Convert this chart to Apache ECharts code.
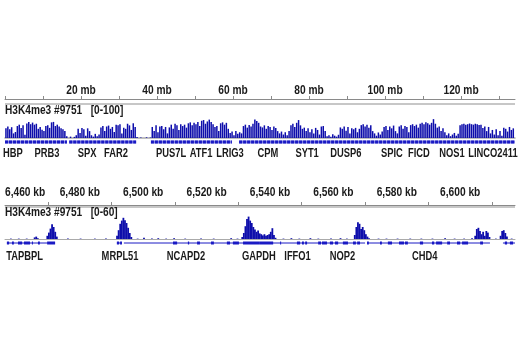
<!DOCTYPE html>
<html><head><meta charset="utf-8">
<script src="https://cdn.jsdelivr.net/npm/echarts@6/dist/echarts.min.js"></script>
<style>html,body{margin:0;padding:0;background:#fff}#c{width:520px;height:350px}</style>
</head><body><div id="c"></div>
<script>
const FONT = "'Liberation Sans',Arial,sans-serif";

// ---------- Top panel: whole chromosome (mb) ----------
const topMin = 0, topMax = 134.2;
const topTickValues = [0,10,20,30,40,50,60,70,80,90,100,110,120,130];
const topLabelValues = [20,40,60,80,100,120];
const topTrackName = 'H3K4me3 #9751   [0-100]';
const topBinStart = 0, topBinSize = 0.5;
const topCoverage = [
42,50,38,47,20,26,52,58,44,55, 14,63,70,60,67,58,62,40,48,36,
30,52,55,44,68,70,52,58,50,42, 38,30,8,0,6,0,5,12,40,22,
44,38,10,42,30,12,6,18,8,15, 46,52,30,50,54,40,48,26,58,55,
60,20,45,40,62,55,35,64,48,4, 0,2,0,0,3,0,2,48,30,55,
25,50,52,38,48,20,46,58,40,62, 55,35,60,52,58,45,64,68,55,66,
60,70,52,75,78,62,72,80,70,60, 48,52,30,64,68,58,66,40,22,28,
12,30,18,25,20,52,58,45,56,50, 62,80,74,66,50,46,55,40,52,48,
35,50,44,30,20,28,15,25,12,30, 55,62,48,66,78,55,40,45,30,42,
25,38,20,44,35,15,50,52,30,8, 12,5,16,10,6,14,46,40,50,32,
48,20,42,38,44,25,40,56,60,50, 58,45,55,30,20,10,24,15,28,48,
52,35,50,42,54,30,20,50,55,40, 52,48,25,56,60,52,58,45,62,66,
60,68,64,58,66,82,62,45,50,30, 42,25,12,20,8,15,22,10,18,55,
60,62,58,60,63,60,58,62,60,56, 58,44,50,30,48,20,35,15,38,12,
30,10,45,40,28,48,35,42
];
const topGeneClusterStart = [0, 16.9, 38.4, 61.6];
const topGeneClusterEnd   = [16.3, 34.5, 59.7, 134.2];
const topGeneNames = ['HBP','PRB3','SPX','FAR2','PUS7L','ATF1','LRIG3','CPM','SYT1','DUSP6','SPIC','FICD','NOS1','LINCO2411'];
const topGenePos   = [2.1, 11.05, 21.6, 29.2, 43.7, 51.6, 59.2, 69.2, 79.5, 89.7, 101.8, 108.9, 117.6, 128.4];

// ---------- Bottom panel: zoomed region (kb) ----------
const botMin = 6456.4, botMax = 6617.3;
const botTickValues = [6470,6490,6510,6530,6550,6570,6590,6610];
const botLabelValues = [6460,6480,6500,6520,6540,6560,6580,6600];
const botTrackName = 'H3K4me3 #9751   [0-60]';
const botCovKb = [
6458.0,6460.5,6463.0,6465.5,6466.0,6466.5,6469.5,6470.0,6470.5,6471.0,6471.5,6472.0,6472.5,
6476.0,6480.0,6484.5,6488.0,
6491.5,6492.0,6492.5,6493.0,6493.5,6494.0,6494.5,6495.0,6495.5,6496.0,
6498.0,6500.0,6502.5,6504.5,6507.0,6509.5,6513.0,6518.0,6522.0,6527.5,6529.5,
6531.0,6531.5,6532.0,6532.5,6533.0,6533.5,6534.0,6534.5,6535.0,6535.5,6536.0,6536.5,
6537.0,6537.5,6538.0,6538.5,6539.0,6539.5,6540.0,6540.5,6541.0,6541.5,
6544.0,6546.5,6549.0,6552.5,6555.0,6559.0,6562.0,6564.0,
6566.5,6567.0,6567.5,6568.0,6568.5,6569.0,6569.5,6570.0,6570.5,6571.0,
6574.0,6576.5,6580.0,6584.0,6587.5,6591.0,6595.0,6598.0,6601.0,6603.5,
6604.5,6605.0,6605.5,6606.0,6606.5,6607.0,6607.5,6608.0,6608.5,6609.0,
6611.0,6612.5,6613.0,6613.5,6614.0,6614.5,6616.0
];
const botCovVal = [
1,1,1,4,6,2,8,16,26,37,30,18,6,
1,1,1,1,
8,22,38,46,53,47,40,28,15,5,
1,3,1,2,1,2,1,1,1,2,1,
5,15,32,50,56,46,40,30,24,18,21,14,
12,9,12,8,10,12,18,27,10,3,
1,2,1,2,1,1,2,1,
10,30,42,38,25,30,22,12,6,2,
1,1,1,1,1,1,2,1,1,2,
8,25,28,20,12,18,8,20,16,5,
1,8,20,22,15,6,1
];
const botIntronStart = [6457.0, 6491.7, 6493.9, 6570.6, 6613.5];
const botIntronEnd   = [6472.2, 6493.3, 6570.0, 6609.4, 6617.3];
const botExonStart = [6457.0,6458.6,6460.5,6462.4,6464.9,6466.8,6469.7,
  6491.7,6492.7,
  6509.4,6514.1,6517.0,6521.4,6526.4,6528.3,6531.5,6536.8,6543.2,6548.5,6550.1,6551.1,
  6555.2,6556.4,6558.9,6560.5,6563.0,6566.2,6567.5,6570.6,6574.7,6577.2,6580.7,6582.6,
  6587.3,6591.1,6592.4,6595.9,6599.0,6600.6,6606.3,6614.1,6615.7];
const botExonEnd = [6457.7,6459.2,6461.8,6464.3,6465.2,6467.4,6472.2,
  6492.4,6493.3,
  6510.7,6514.5,6517.9,6522.3,6527.4,6530.2,6536.8,6541.0,6543.5,6549.5,6550.7,6551.7,
  6556.1,6558.0,6559.9,6561.5,6564.6,6567.1,6568.4,6571.2,6575.3,6578.5,6582.3,6583.5,
  6588.3,6591.8,6594.3,6596.8,6600.0,6602.5,6607.2,6614.8,6616.7];
const botGeneNames = ['TAPBPL','MRPL51','NCAPD2','GAPDH','IFFO1','NOP2','CHD4'];
const botGenePos   = [6462.6, 6492.7, 6513.5, 6536.5, 6548.7, 6562.9, 6588.8];

// ---------- styles ----------
const COV = '#0d0dab';
const GENE = '#1a1ac4';
const TXT = '#1a1a1a';
const FS = 12;

function commas(v){ const s = String(Math.round(v)); return s.replace(/\B(?=(\d{3})+(?!\d))/g, ','); }

function textEl(str, x, y, sx, align){
  return {type:'text', x:x, y:y, scaleX:sx,
    style:{text:str, x:0, y:0, align:align||'center', verticalAlign:'middle',
      fontSize:FS, fontWeight:'bold', fontFamily:FONT, fill:TXT}};
}

const L = 5, W = 510;
const grids = [
  {left: L, width: W, top: 98, height: 1},
  {left: L, width: W, top: 115, height: 23},
  {left: L, width: W, top: 140, height: 16},
  {left: L, width: W, top: 204, height: 1},
  {left: L, width: W, top: 215, height: 24},
  {left: L, width: W, top: 241, height: 20}
];

function hiddenX(i, min, max){ return {type:'value', gridIndex:i, min:min, max:max, show:false}; }
function rulerX(i, min, max, ticks){
  return {type:'value', gridIndex:i, min:min, max:max, position:'top',
    axisLine:{show:true, lineStyle:{color:'#8a8a8a', width:1}},
    axisTick:{show:true, length:3, inside:false, lineStyle:{color:'#8a8a8a'}, customValues: ticks},
    axisLabel:{show:false}, splitLine:{show:false}};
}
const xAxes = [
  rulerX(0, topMin, topMax, topTickValues),
  Object.assign(hiddenX(1, topMin, topMax), {show:true, axisLine:{show:true, lineStyle:{color:'#aaaaaa', width:1.5}}, axisTick:{show:false}, axisLabel:{show:false}, splitLine:{show:false}}),
  hiddenX(2, topMin, topMax),
  rulerX(3, botMin, botMax, botTickValues),
  Object.assign(hiddenX(4, botMin, botMax), {show:true, axisLine:{show:true, lineStyle:{color:'#aaaaaa', width:1}}, axisTick:{show:false}, axisLabel:{show:false}, splitLine:{show:false}}),
  hiddenX(5, botMin, botMax)
];
const yAxes = [
  {type:'value', gridIndex:0, min:0, max:1, show:false},
  {type:'value', gridIndex:1, min:0, max:100, show:false},
  {type:'value', gridIndex:2, min:0, max:1, show:false},
  {type:'value', gridIndex:3, min:0, max:1, show:false},
  {type:'value', gridIndex:4, min:0, max:60, show:false},
  {type:'value', gridIndex:5, min:0, max:1, show:false}
];

const topBars = topCoverage.map((v, i) => [topBinStart + (i + 0.5) * topBinSize, v]);
const botBars = botCovKb.map((k, i) => [k + 0.25, botCovVal[i]]);

const RULER_SX = 0.85, GENE_SX = 0.78, NAME_SX = 0.845;

const series = [
  {type:'custom', xAxisIndex:0, yAxisIndex:0, data: topLabelValues.map(v=>[v,0]),
    renderItem: (p, api) => { const pt = api.coord([api.value(0), 0]);
      return textEl(api.value(0) + ' mb', pt[0], pt[1] - 8.5, RULER_SX); }},
  {type:'bar', xAxisIndex:1, yAxisIndex:1, data: topBars, barWidth: 1.5, itemStyle:{color: COV}, z:3},
  {type:'custom', xAxisIndex:2, yAxisIndex:2, data: topGeneClusterStart.map((s,i)=>[s, topGeneClusterEnd[i]]),
    renderItem: (p, api) => {
      const a = api.coord([api.value(0), 0.875]), b = api.coord([api.value(1), 0.875]);
      return {type:'group', children:[
        {type:'line', shape:{x1:a[0], y1:a[1], x2:b[0], y2:b[1]}, style:{stroke:'#8b8be6', lineWidth:3}},
        {type:'line', shape:{x1:a[0], y1:a[1], x2:b[0], y2:b[1]}, style:{stroke:GENE, lineWidth:3, lineDash:[3,1]}}
      ]};
    }},
  {type:'custom', xAxisIndex:2, yAxisIndex:2, data: topGenePos.map((p,i)=>[p, 0.15, i]),
    renderItem: (p, api) => { const pt = api.coord([api.value(0), api.value(1)]);
      return textEl(topGeneNames[api.value(2)], pt[0], pt[1], GENE_SX); }},
  {type:'custom', xAxisIndex:3, yAxisIndex:3, data: botLabelValues.map(v=>[v,0]),
    renderItem: (p, api) => { const pt = api.coord([api.value(0), 0]);
      const s = commas(api.value(0)) + ' kb';
      if (pt[0] < 25) return textEl(s, 5, pt[1] - 12, RULER_SX, 'left');
      return textEl(s, pt[0], pt[1] - 12, RULER_SX); }},
  {type:'bar', xAxisIndex:4, yAxisIndex:4, data: botBars, barWidth: 1.8, itemStyle:{color: COV}, z:3},
  {type:'custom', xAxisIndex:5, yAxisIndex:5, data: botIntronStart.map((s,i)=>[s, botIntronEnd[i]]),
    renderItem: (p, api) => {
      const a = api.coord([api.value(0), 0.9]), b = api.coord([api.value(1), 0.9]);
      return {type:'line', shape:{x1:a[0], y1:a[1], x2:b[0], y2:b[1]}, style:{stroke:GENE, lineWidth:1}};
    }},
  {type:'custom', xAxisIndex:5, yAxisIndex:5, data: botExonStart.map((s,i)=>[s, botExonEnd[i]]),
    renderItem: (p, api) => {
      const a = api.coord([api.value(0), 0.9]), b = api.coord([api.value(1), 0.9]);
      return {type:'rect', shape:{x:a[0], y:a[1]-1.5, width:Math.max(1, b[0]-a[0]), height:3}, style:{fill:GENE}};
    }},
  {type:'custom', xAxisIndex:5, yAxisIndex:5, data: botGenePos.map((p,i)=>[p, 0.2, i]),
    renderItem: (p, api) => { const pt = api.coord([api.value(0), api.value(1)]);
      return textEl(botGeneNames[api.value(2)], pt[0], pt[1], GENE_SX); }}
];

const chart = echarts.init(document.getElementById('c'), null, {renderer:'canvas'});
chart.setOption({
  animation:false,
  backgroundColor:'#ffffff',
  grid: grids, xAxis: xAxes, yAxis: yAxes, series: series,
  graphic:[
    {type:'line', shape:{x1:5, y1:104, x2:515, y2:104}, style:{stroke:'#b4b4b4', lineWidth:1.5}, silent:true},
    {type:'line', shape:{x1:5, y1:207, x2:515, y2:207}, style:{stroke:'#b4b4b4', lineWidth:1.5}, silent:true},
    Object.assign(textEl(topTrackName, 5, 111, NAME_SX, 'left'), {silent:true}),
    Object.assign(textEl(botTrackName, 5, 213, NAME_SX, 'left'), {silent:true})
  ]
});
</script></body></html>
